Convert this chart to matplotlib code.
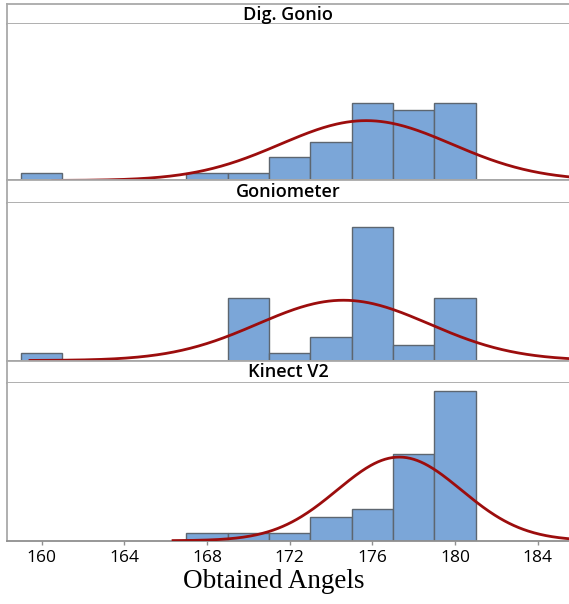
import numpy as np
import matplotlib.pyplot as plt

# histogram data (counts per 2-degree bin)
bin_centers = [160, 162, 164, 166, 168, 170, 172, 174, 176, 178, 180]
dig_gonio = [1, 0, 0, 0, 1, 1, 3, 5, 10, 9, 10]
goniometer = [1, 0, 0, 0, 0, 8, 1, 3, 17, 2, 8]
kinect = [0, 0, 0, 0, 1, 1, 1, 3, 4, 11, 19]

# fitted normal curves (mean, st.dev)
fit_mean = [175.7, 174.6, 177.3]
fit_sd = [4.15, 4.15, 3.0]

titles = ["Dig. Gonio", "Goniometer", "Kinect V2"]
xticks = [160, 164, 168, 172, 176, 180, 184]

series = [dig_gonio, goniometer, kinect]
bin_w = 2

W, H = 569, 604
fig = plt.figure(figsize=(W / 100, H / 100), dpi=100)

def fy(px):
    return 1 - px / H

left = 7.3 / W
width = 1 - left
strips = [(4, 24), (180.5, 203), (360.5, 382.7)]
panels = [(24, 180.5), (203, 360.5), (382.7, 540.7)]
xlim = (158.34, 185.51)

bar_col = "#7ba6d8"
edge_col = "#5d6670"
curve_col = "#9c0d0d"
line_gray = "#a9a9a9"

for i in range(3):
    t, b = strips[i]
    sa = fig.add_axes([left, fy(b), width, (b - t) / H])
    sa.set_xticks([])
    sa.set_yticks([])
    for s in sa.spines.values():
        s.set_color(line_gray)
        s.set_linewidth(1.3)
    sa.spines["right"].set_visible(False)
    sa.text(0.5, 0.47, titles[i], transform=sa.transAxes, ha="center", va="center",
            fontsize=13, family="Open Sans", fontweight="semibold")

    t, b = panels[i]
    ax = fig.add_axes([left, fy(b), width, (b - t) / H])
    counts = np.array(series[i])
    centers = np.array(bin_centers)
    m = counts > 0
    ax.bar(centers[m], counts[m], width=bin_w, color=bar_col, edgecolor=edge_col,
           linewidth=1.0, zorder=2)
    n = counts.sum()
    mu, sd = fit_mean[i], fit_sd[i]
    xs = np.linspace(mu - 3.67 * sd, mu + 4 * sd, 400)
    ys = n * bin_w * np.exp(-0.5 * ((xs - mu) / sd) ** 2) / (sd * np.sqrt(2 * np.pi))
    ax.plot(xs, ys, color=curve_col, lw=2.0, zorder=3, solid_capstyle="butt")
    ax.set_xlim(xlim)
    ax.set_ylim(0, 20.1)
    ax.set_yticks([])
    ax.spines["top"].set_visible(False)
    ax.spines["right"].set_visible(False)
    ax.spines["left"].set_color(line_gray)
    ax.spines["left"].set_linewidth(1.3)
    ax.spines["bottom"].set_color("#8f8f8f")
    ax.spines["bottom"].set_linewidth(1.3)
    if i == 2:
        ax.set_xticks(xticks)
        ax.tick_params(axis="x", length=3, width=1, color="#8f8f8f", pad=3.5,
                       labelsize=12.5)
        for lab in ax.get_xticklabels():
            lab.set_family("Open Sans")
    else:
        ax.set_xticks([])

fig.text(274 / W, fy(582), "Obtained Angels", ha="center", va="center",
         fontsize=19.5, family="Liberation Serif")

fig.savefig("out.png", dpi=100)
